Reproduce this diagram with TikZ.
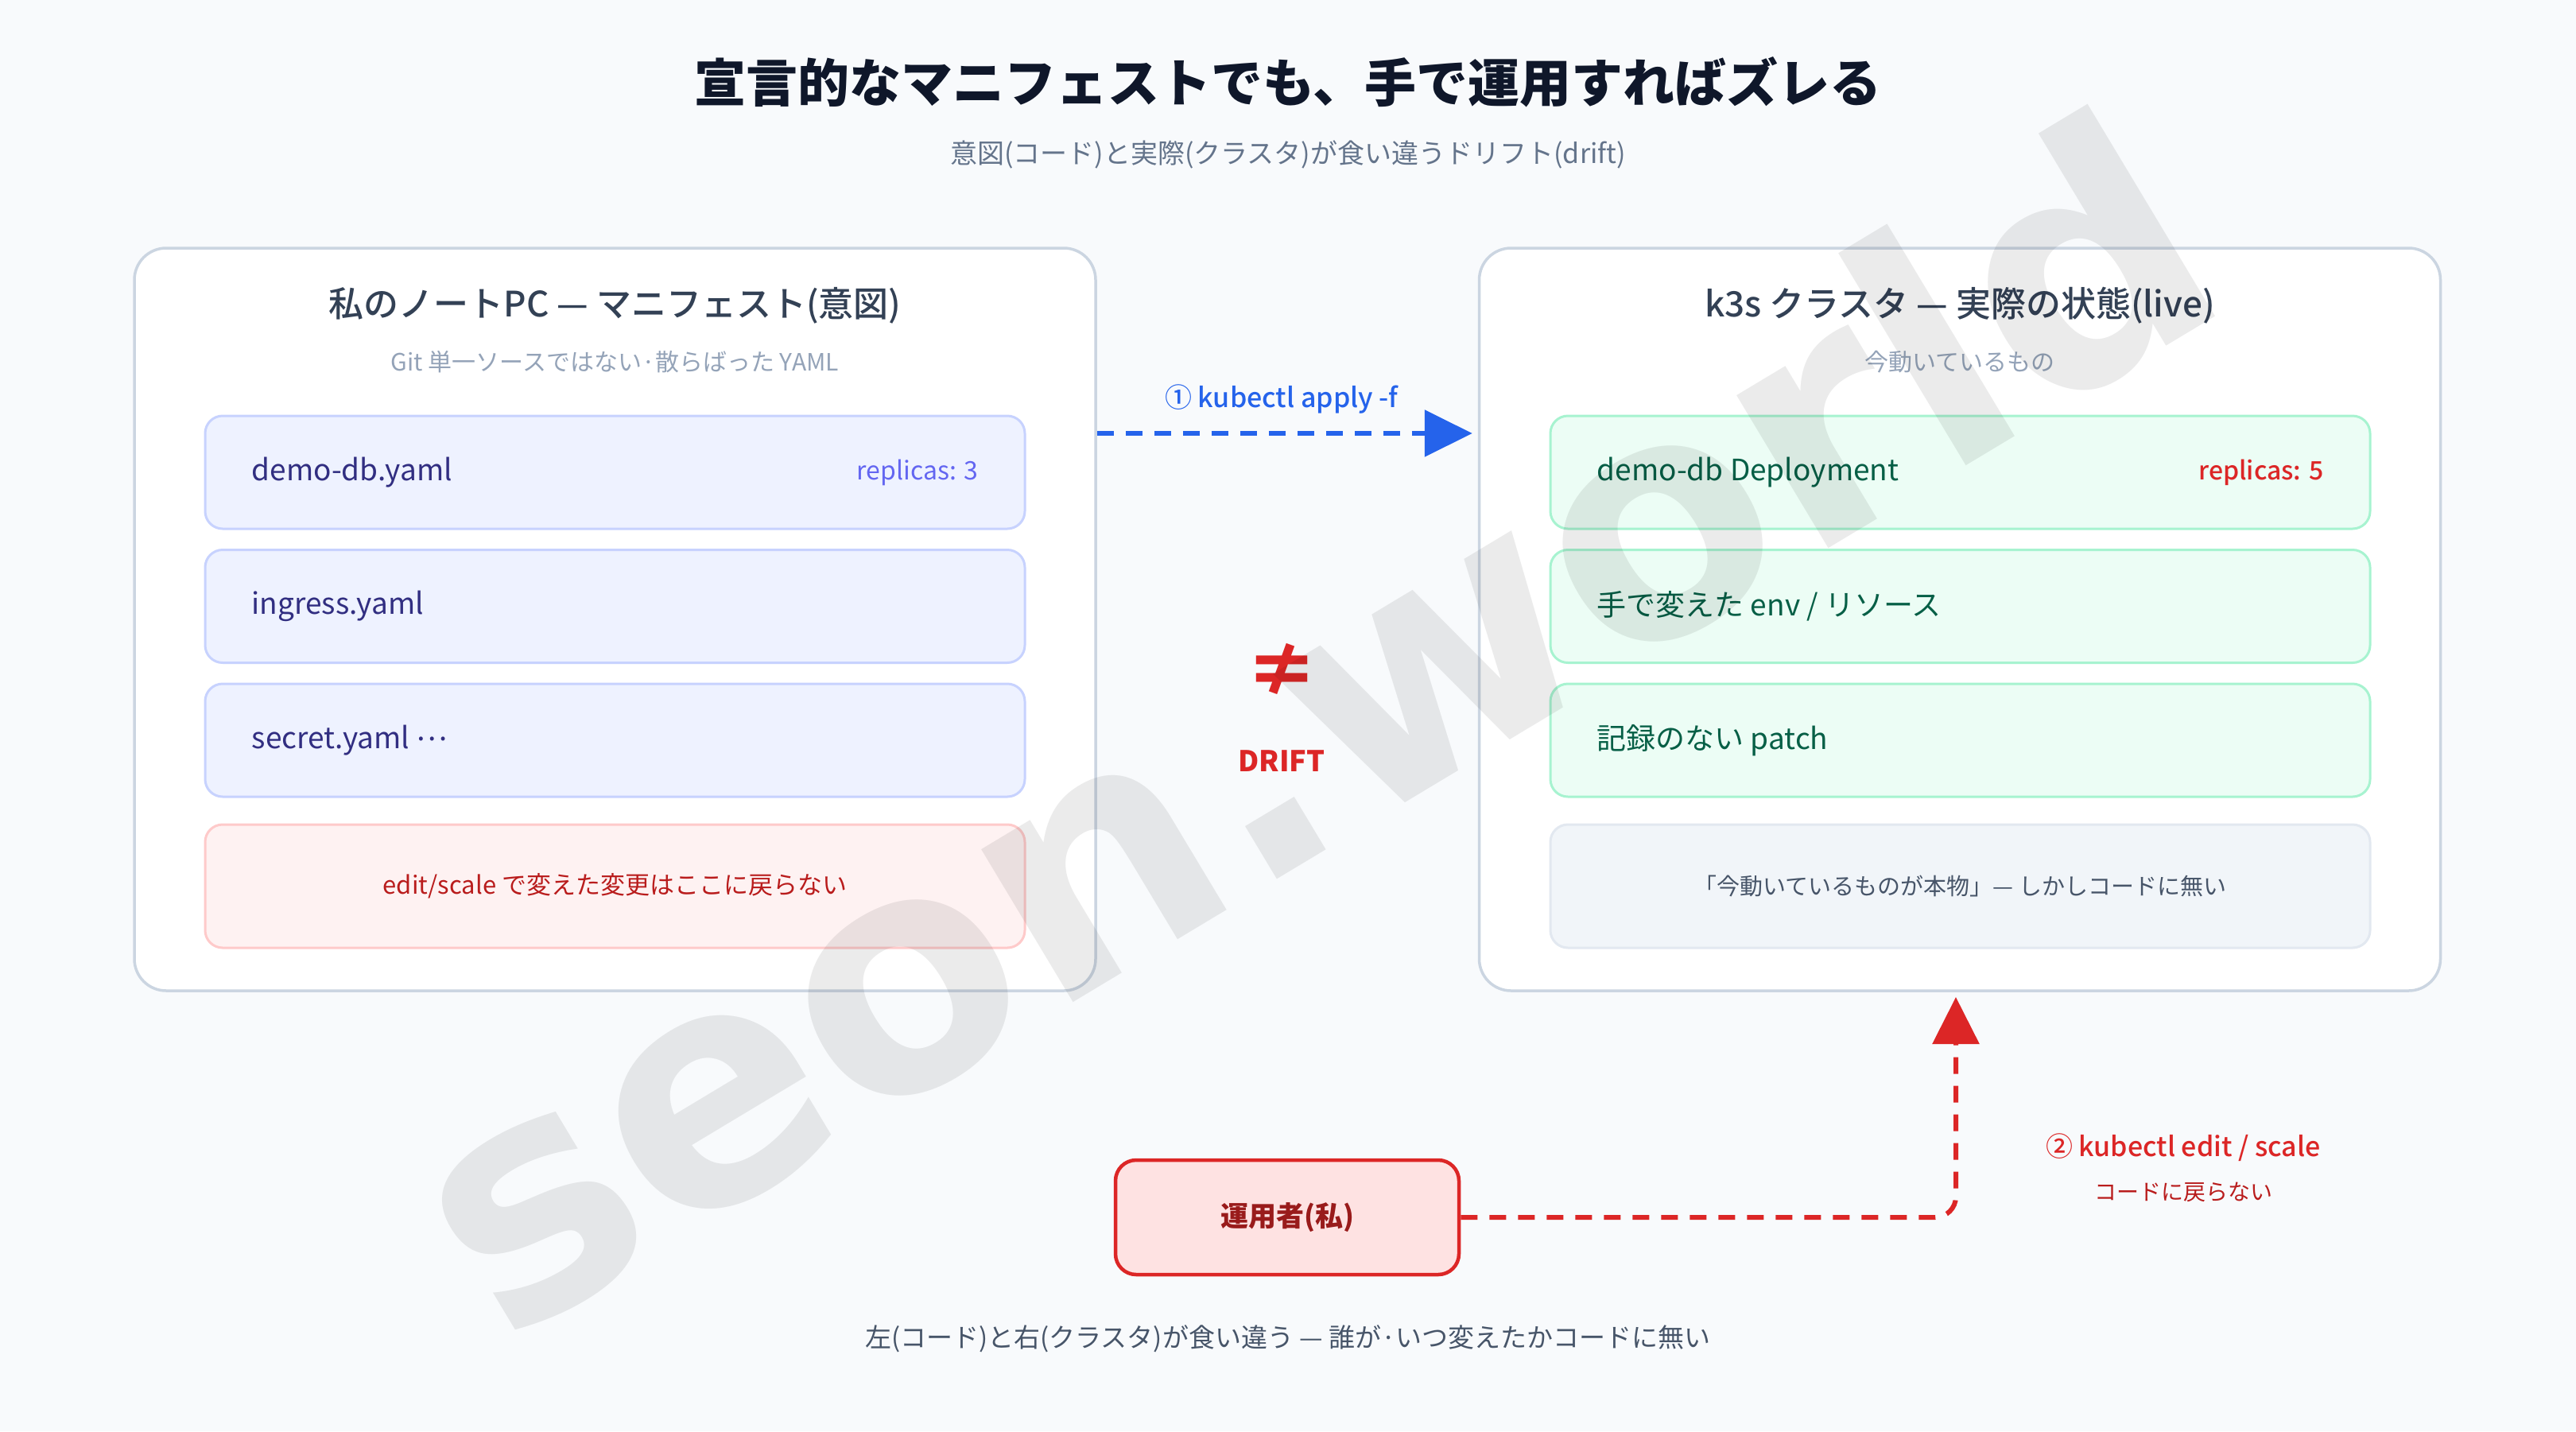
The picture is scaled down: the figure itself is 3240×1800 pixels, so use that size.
\documentclass[tikz,border=0pt]{standalone}
\usepackage{fontspec}
\setmainfont{Noto Sans CJK JP}
\newfontfamily\medfont{Noto Sans CJK JP Medium}
\newfontfamily\wmfont{DejaVu Sans}
\usetikzlibrary{arrows.meta}
\definecolor{bg}{HTML}{F8FAFC}
\definecolor{ink}{HTML}{0F172A}
\definecolor{slate}{HTML}{64748B}
\definecolor{slatedk}{HTML}{334155}
\definecolor{slatemd}{HTML}{475569}
\definecolor{slatelt}{HTML}{94A3B8}
\definecolor{panelb}{HTML}{CBD5E1}
\definecolor{indf}{HTML}{EEF2FF}
\definecolor{indb}{HTML}{C7D2FE}
\definecolor{indt}{HTML}{312E81}
\definecolor{indl}{HTML}{6366F1}
\definecolor{grnf}{HTML}{ECFDF5}
\definecolor{grnb}{HTML}{A7F3D0}
\definecolor{grnt}{HTML}{065F46}
\definecolor{redf}{HTML}{FEF2F2}
\definecolor{redb}{HTML}{FECACA}
\definecolor{redt}{HTML}{B91C1C}
\definecolor{red}{HTML}{DC2626}
\definecolor{reddk}{HTML}{991B1B}
\definecolor{opf}{HTML}{FEE2E2}
\definecolor{grayf}{HTML}{F1F5F9}
\definecolor{grayb}{HTML}{E2E8F0}
\definecolor{blue}{HTML}{2563EB}
\begin{document}
\begin{tikzpicture}[x=1pt,y=-1pt,
  panel/.style={draw=panelb, line width=3.5pt, fill=white, rounded corners=40pt,
    minimum width=1209pt, minimum height=934pt, inner sep=0pt},
  itembox/.style={line width=3pt, rounded corners=22pt, minimum width=1031pt,
    minimum height=142pt, inner sep=0pt},
  leftitem/.style={itembox, draw=indb, fill=indf},
  rightitem/.style={itembox, draw=grnb, fill=grnf},
  itemtext/.style={font=\fontsize{37pt}{44pt}\selectfont, inner sep=0pt},
  ptitle/.style={font=\medfont\fontsize{44pt}{52pt}\selectfont, text=slatedk},
  psub/.style={font=\fontsize{30pt}{36pt}\selectfont, text=slatelt},
  flow/.style={line width=6pt, dash pattern=on 21pt off 15pt}
]
\useasboundingbox (0,0) rectangle (3240,1800);
\fill[bg] (0,0) rectangle (3240,1800);

% titles
\node[font=\bfseries\fontsize{65pt}{78pt}\selectfont, text=ink] (title) at (1620,103) {宣言的なマニフェストでも、手で運用すればズレる};
\node[font=\fontsize{34pt}{40pt}\selectfont, text=slate] (subtitle) at (1620,194) {意図(コード)と実際(クラスタ)が食い違うドリフト(drift)};

% panels
\node[panel] (lp) at (773.5,779) {};
\node[panel] (rp) at (2465,779) {};

\node[ptitle] (lpt) at (773.5,384) {私のノートPC — マニフェスト(意図)};
\node[psub] (lps) at (773.5,455) {Git 単一ソースではない·散らばった YAML};
\node[ptitle] (rpt) at (2465,384) {k3s クラスタ — 実際の状態(live)};
\node[psub] (rps) at (2465,455) {今動いているもの};

% left items
\node[leftitem] (l1) at (773.5,594) {};
\node[leftitem] (l2) at (773.5,762.5) {};
\node[leftitem] (l3) at (773.5,931) {};
\node[itembox, draw=redb, fill=redf, minimum height=155pt] (l4) at (773.5,1114.5) {};
\node[itemtext, text=indt, anchor=west] (l1t) at ([xshift=60pt]l1.west) {demo-db.yaml};
\node[itemtext, text=indl, anchor=east, font=\fontsize{32pt}{38pt}\selectfont] (l1r) at ([xshift=-60pt]l1.east) {replicas: 3};
\node[itemtext, text=indt, anchor=west] (l2t) at ([xshift=60pt]l2.west) {ingress.yaml};
\node[itemtext, text=indt, anchor=west] (l3t) at ([xshift=60pt]l3.west) {secret.yaml \raisebox{0.26em}{…}};
\node[itemtext, text=redt, font=\fontsize{31pt}{38pt}\selectfont] (l4t) at (l4.center) {edit/scale で変えた変更はここに戻らない};

% right items
\node[rightitem] (r1) at (2465.5,594) {};
\node[rightitem] (r2) at (2465.5,762.5) {};
\node[rightitem] (r3) at (2465.5,931) {};
\node[itembox, draw=grayb, fill=grayf, minimum height=155pt] (r4) at (2465.5,1114.5) {};
\node[itemtext, text=grnt, anchor=west] (r1t) at ([xshift=60pt]r1.west) {demo-db Deployment};
\node[itemtext, text=red, anchor=east, font=\medfont\fontsize{32pt}{38pt}\selectfont] (r1r) at ([xshift=-60pt]r1.east) {replicas: 5};
\node[itemtext, text=grnt, anchor=west] (r2t) at ([xshift=60pt]r2.west) {手で変えた env / リソース};
\node[itemtext, text=grnt, anchor=west] (r3t) at ([xshift=60pt]r3.west) {記録のない patch};
\node[itemtext, text=slatemd, font=\fontsize{29pt}{36pt}\selectfont] (r4t) at (r4.center) {「今動いているものが本物」— しかしコードに無い};

% arrow 1
\coordinate (a1y) at (0,545);
\draw[flow, draw=blue, -{Triangle[length=60pt,width=58pt]}, shorten >=7pt] (lp.east |- a1y) -- (rp.west |- a1y);
\node[font=\medfont\fontsize{34pt}{40pt}\selectfont, text=blue] (a1l) at (1612,502) {① kubectl apply -f};

% drift
\node[font=\bfseries\fontsize{92pt}{100pt}\selectfont, text=red] (neq) at (1612,843) {≠};
\node[font=\bfseries\fontsize{36pt}{42pt}\selectfont, text=red] (drift) at (1612,957) {DRIFT};

% operator
\node[draw=red, fill=opf, line width=4.5pt, rounded corners=26pt, minimum width=432pt, minimum height=144pt,
  font=\bfseries\fontsize{35pt}{42pt}\selectfont, text=reddk] (op) at (1619,1531) {運用者(私)};
\coordinate (a2end) at (2460,1254);
\draw[flow, draw=red, rounded corners=26pt, -{Triangle[length=59pt,width=58pt]}] (op.east) -| (a2end);
\node[font=\medfont\fontsize{34pt}{40pt}\selectfont, text=red] (a2l) at (2746,1443) {② kubectl edit / scale};
\node[font=\fontsize{28pt}{34pt}\selectfont, text=redt] (a2s) at (2746,1499) {コードに戻らない};

% caption
\node[font=\fontsize{33pt}{40pt}\selectfont, text=slatemd] (cap) at (1620,1684) {左(コード)と右(クラスタ)が食い違う — 誰が·いつ変えたかコードに無い};

% watermark
\node[font=\wmfont\bfseries\fontsize{410pt}{420pt}\selectfont, text=black, text opacity=0.08, rotate=31] (wm) at (1645,905) {seon.world};
\end{tikzpicture}
\end{document}
